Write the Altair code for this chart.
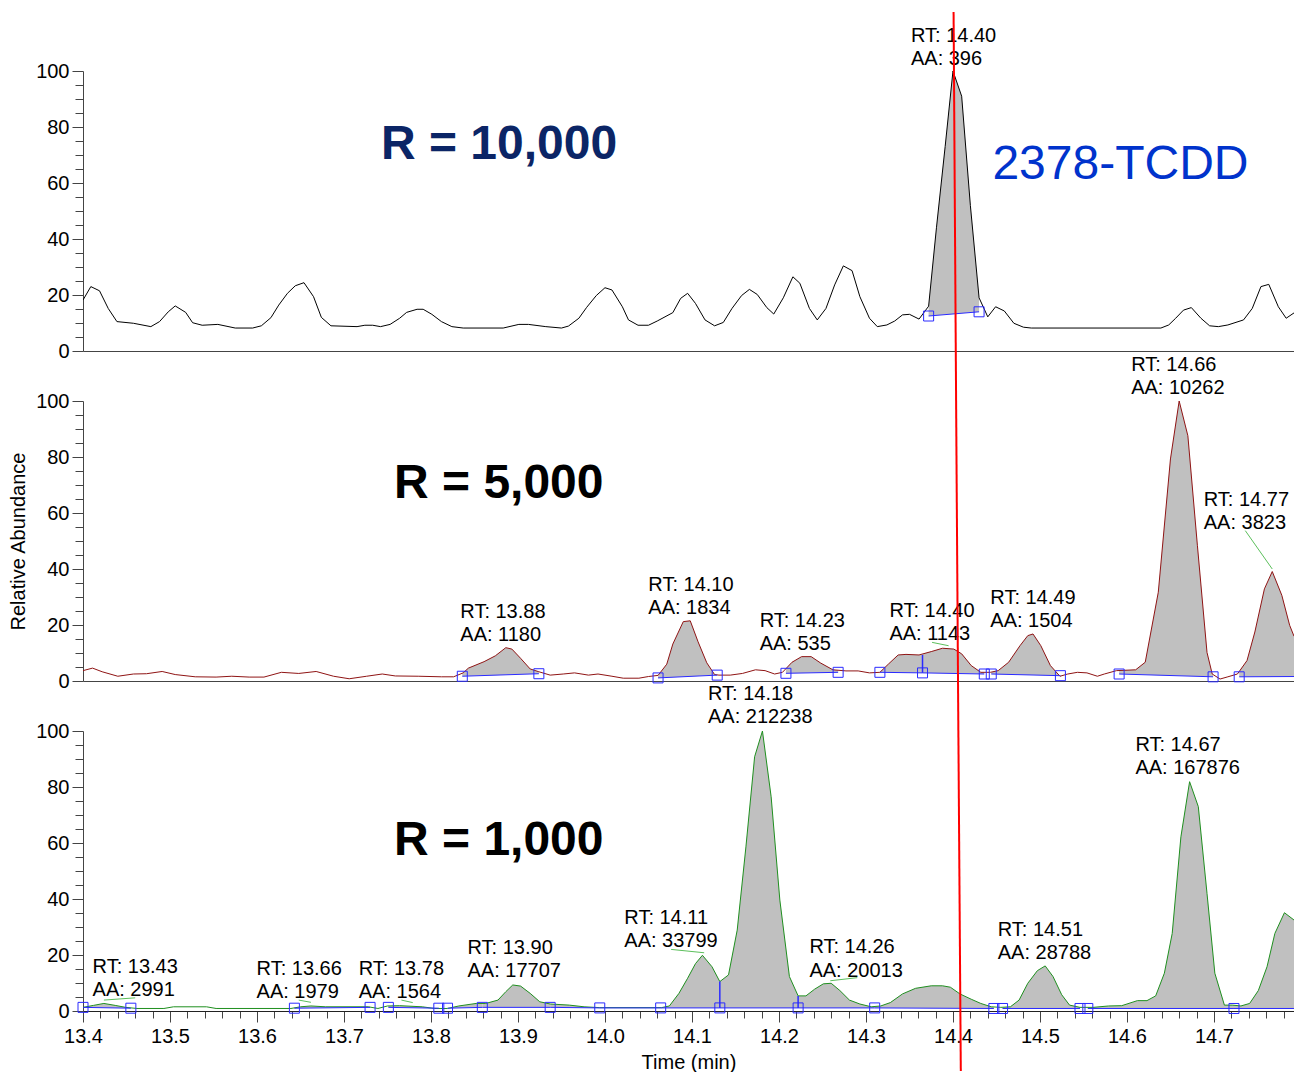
import altair as alt
import numpy as np
import pandas as pd

FONT = "Liberation Sans"
X_DOMAIN = [13.4, 14.792]
PANEL_W = 1211
PANEL_H = 280

# ---------------- R = 10,000 (black trace) ----------------
r10_t = [13.400, 13.409, 13.419, 13.429, 13.439, 13.458, 13.478, 13.488, 13.498, 13.506,
         13.518, 13.526, 13.537, 13.555, 13.575, 13.595, 13.605, 13.616, 13.625, 13.635,
         13.644, 13.654, 13.665, 13.674, 13.685, 13.715, 13.724, 13.733, 13.742, 13.753,
         13.764, 13.772, 13.784, 13.791, 13.801, 13.812, 13.824, 13.837, 13.883, 13.901,
         13.912, 13.932, 13.950, 13.958, 13.970, 13.979, 13.990, 14.000, 14.008, 14.020,
         14.027, 14.038, 14.050, 14.060, 14.078, 14.087, 14.095, 14.104, 14.115, 14.126,
         14.136, 14.146, 14.157, 14.166, 14.175, 14.186, 14.194, 14.205, 14.216, 14.224,
         14.235, 14.244, 14.254, 14.264, 14.274, 14.284, 14.293, 14.304, 14.313, 14.324,
         14.333, 14.342, 14.350, 14.361, 14.372, 14.381, 14.391, 14.400, 14.410, 14.420,
         14.430, 14.440, 14.449, 14.459, 14.470, 14.481, 14.490, 14.639, 14.648, 14.656,
         14.665, 14.674, 14.685, 14.695, 14.705, 14.716, 14.734, 14.744, 14.754, 14.763,
         14.774, 14.783, 14.792]
r10_v = [18.2, 23.0, 21.5, 15.2, 10.5, 9.9, 8.7, 10.5, 14.0, 16.1,
         13.8, 10.1, 9.2, 9.5, 8.2, 8.2, 9.0, 11.9, 16.4, 20.6,
         23.3, 24.4, 19.4, 12.0, 9.0, 8.7, 9.2, 9.2, 8.7, 9.5,
         11.7, 13.8, 14.9, 14.9, 13.1, 10.5, 8.7, 8.2, 8.2, 9.5,
         9.5, 8.7, 8.2, 8.9, 11.7, 15.6, 19.8, 22.6, 21.8, 15.8,
         11.1, 9.2, 9.2, 10.7, 13.7, 18.8, 20.6, 17.0, 11.1, 9.0,
         10.2, 15.2, 19.8, 22.0, 20.2, 15.5, 13.2, 19.0, 26.5, 24.2,
         15.2, 11.1, 15.2, 23.6, 30.4, 28.7, 19.4, 11.7, 8.7, 9.3,
         10.7, 12.9, 13.1, 11.4, 16.0, 44.0, 73.0, 100.0, 91.0, 52.0,
         19.0, 12.2, 15.8, 14.3, 9.9, 8.5, 8.2, 8.2, 9.3, 11.7,
         14.6, 15.5, 11.7, 9.0, 8.7, 9.3, 11.1, 15.2, 23.0, 23.8,
         15.8, 11.7, 13.6]
# integrated peaks: start time, start baseline, end time, end baseline
r10_peaks = [(14.372, 12.5, 14.430, 14.0)]
r10_drops = []
r10_leaders = []
r10_lab_txt = ["RT: 14.40\nAA: 396"]
r10_lab_t = [14.3517]
r10_lab_v = [110.4]

# ---------------- R = 5,000 (dark red trace) ----------------
r5_t = [13.400, 13.411, 13.422, 13.440, 13.458, 13.473, 13.491, 13.506, 13.529, 13.553,
        13.571, 13.591, 13.608, 13.628, 13.648, 13.668, 13.688, 13.706, 13.726, 13.744,
        13.759, 13.786, 13.812, 13.826, 13.837, 13.843, 13.861, 13.874, 13.886, 13.893,
        13.903, 13.914, 13.924, 13.937, 13.952, 13.965, 13.981, 13.992, 14.008, 14.021,
        14.039, 14.050, 14.061, 14.071, 14.078, 14.090, 14.098, 14.107, 14.117, 14.126,
        14.131, 14.144, 14.158, 14.173, 14.184, 14.195, 14.204, 14.215, 14.226, 14.237,
        14.248, 14.262, 14.277, 14.291, 14.304, 14.316, 14.326, 14.337, 14.346, 14.361,
        14.375, 14.388, 14.401, 14.410, 14.421, 14.432, 14.443, 14.452, 14.464, 14.477,
        14.486, 14.492, 14.501, 14.512, 14.523, 14.532, 14.543, 14.554, 14.566, 14.574,
        14.588, 14.610, 14.621, 14.636, 14.650, 14.660, 14.670, 14.681, 14.692, 14.698,
        14.707, 14.716, 14.727, 14.738, 14.747, 14.758, 14.767, 14.778, 14.787, 14.792]
r5_v = [3.7, 4.6, 3.3, 1.7, 2.5, 2.6, 3.4, 2.3, 1.5, 1.4,
        1.7, 1.4, 1.4, 3.1, 2.7, 3.4, 1.7, 0.8, 1.7, 2.5,
        1.8, 1.7, 1.5, 1.5, 2.9, 4.6, 6.9, 9.0, 11.9, 11.4,
        8.1, 4.3, 3.3, 2.1, 2.5, 2.9, 2.1, 2.5, 1.7, 1.0,
        1.0, 1.6, 2.0, 6.0, 13.2, 21.2, 21.5, 14.0, 6.5, 2.3,
        2.1, 2.1, 2.7, 4.0, 3.7, 2.5, 3.1, 6.7, 8.7, 8.7,
        6.4, 4.0, 3.6, 3.6, 2.9, 3.1, 6.1, 9.3, 9.5, 9.3,
        10.5, 11.7, 11.4, 9.7, 5.5, 3.1, 3.1, 3.7, 6.7, 12.6,
        16.2, 16.8, 12.6, 5.5, 1.7, 2.5, 3.1, 2.9, 1.7, 2.5,
        3.7, 4.0, 6.7, 31.7, 79.3, 100.0, 87.6, 48.3, 10.2, 2.5,
        0.7, 1.5, 2.5, 7.3, 17.5, 32.9, 39.1, 30.6, 19.9, 16.0]
r5_peaks = [(13.836, 1.7, 13.924, 2.6), (14.061, 1.1, 14.129, 2.1),
            (14.208, 2.75, 14.268, 3.1), (14.316, 3.1, 14.365, 2.9),
            (14.365, 2.9, 14.436, 2.5), (14.444, 2.5, 14.5235, 1.9),
            (14.591, 2.5, 14.699, 1.5), (14.729, 1.5, 14.792, 1.6)]
r5_drops = [(14.365, 2.9, 9.3)]
r5_leaders = [(14.376, 13.8, 14.395, 12.6), (14.736, 53.7, 14.767, 40.0)]
r5_lab_txt = ["RT: 13.88\nAA: 1180", "RT: 14.10\nAA: 1834", "RT: 14.23\nAA: 535",
              "RT: 14.40\nAA: 1143", "RT: 14.49\nAA: 1504", "RT: 14.66\nAA: 10262",
              "RT: 14.77\nAA: 3823"]
r5_lab_t = [13.8337, 14.0498, 14.1778, 14.3269, 14.4429, 14.6048, 14.6883]
r5_lab_v = [22.5, 32.3, 19.4, 22.8, 27.5, 110.8, 62.6]

# ---------------- R = 1,000 (green trace) ----------------
r1_t = [13.400, 13.412, 13.424, 13.437, 13.449, 13.462, 13.493, 13.504, 13.542, 13.553,
        13.639, 13.650, 13.662, 13.679, 13.728, 13.739, 13.750, 13.764, 13.790, 13.804,
        13.819, 13.832, 13.852, 13.863, 13.877, 13.886, 13.894, 13.903, 13.914, 13.925,
        13.937, 13.959, 13.976, 13.994, 14.065, 14.074, 14.085, 14.095, 14.104, 14.112,
        14.123, 14.132, 14.142, 14.152, 14.162, 14.172, 14.181, 14.191, 14.201, 14.212,
        14.222, 14.231, 14.241, 14.251, 14.260, 14.270, 14.281, 14.293, 14.306, 14.317,
        14.328, 14.342, 14.357, 14.375, 14.388, 14.397, 14.408, 14.421, 14.432, 14.444,
        14.455, 14.466, 14.476, 14.486, 14.497, 14.506, 14.515, 14.525, 14.534, 14.546,
        14.561, 14.579, 14.594, 14.612, 14.623, 14.633, 14.643, 14.652, 14.662, 14.672,
        14.682, 14.692, 14.701, 14.712, 14.721, 14.731, 14.741, 14.751, 14.761, 14.770,
        14.781, 14.792]
r1_v = [1.3, 2.0, 2.7, 2.0, 1.3, 0.9, 0.9, 1.5, 1.5, 0.9,
        0.9, 1.5, 1.8, 1.5, 1.5, 0.9, 1.8, 1.9, 1.5, 0.9,
        0.9, 1.8, 2.7, 2.7, 3.9, 6.9, 9.3, 8.9, 6.3, 3.3,
        2.5, 2.1, 1.5, 1.2, 1.2, 1.8, 6.3, 11.7, 16.9, 19.9,
        15.8, 10.5, 12.9, 28.9, 58.6, 90.8, 100.0, 76.5, 39.6, 12.3,
        5.4, 5.4, 7.8, 9.7, 9.9, 7.3, 3.9, 2.5, 1.5, 1.8,
        3.0, 6.1, 8.1, 9.0, 9.0, 8.5, 6.1, 4.2, 2.7, 1.5,
        1.3, 1.5, 3.9, 9.9, 14.4, 16.1, 12.3, 5.8, 2.1, 1.3,
        1.3, 1.8, 1.9, 3.7, 3.7, 5.4, 13.5, 27.7, 62.2, 81.9,
        73.0, 42.0, 13.5, 2.1, 2.1, 1.8, 2.7, 7.3, 15.8, 27.7,
        35.1, 32.5]
r1_peaks = [(13.400, 1.3, 13.455, 1.0), (13.643, 1.0, 13.730, 1.3),
            (13.751, 1.3, 13.809, 1.0), (13.819, 1.0, 13.859, 1.3),
            (13.859, 1.3, 13.937, 1.3), (13.937, 1.3, 13.994, 1.1),
            (13.994, 1.1, 14.064, 1.1), (14.064, 1.1, 14.132, 1.1),
            (14.132, 1.1, 14.222, 1.1), (14.222, 1.1, 14.310, 1.1),
            (14.310, 1.1, 14.447, 0.9), (14.457, 0.9, 14.546, 0.9),
            (14.555, 0.9, 14.723, 0.9), (14.723, 0.9, 14.792, 0.9)]
r1_drops = [(14.132, 1.1, 10.5), (14.222, 1.1, 5.4)]
r1_leaders = [(13.424, 3.9, 13.460, 4.7), (13.648, 3.9, 13.662, 3.1),
              (13.766, 3.9, 13.779, 3.0), (14.076, 22.0, 14.114, 20.8),
              (14.259, 10.8, 14.290, 11.9)]
r1_lab_txt = ["RT: 13.43\nAA: 2991", "RT: 13.66\nAA: 1979", "RT: 13.78\nAA: 1564",
              "RT: 13.90\nAA: 17707", "RT: 14.11\nAA: 33799", "RT: 14.18\nAA: 212238",
              "RT: 14.26\nAA: 20013", "RT: 14.51\nAA: 28788", "RT: 14.67\nAA: 167876"]
r1_lab_t = [13.4110, 13.5995, 13.7170, 13.8420, 14.0222, 14.1184, 14.2350, 14.4515, 14.6097]
r1_lab_v = [13.5, 12.9, 12.9, 20.4, 31.1, 111.1, 20.6, 26.8, 93.0]

# resolution captions: text, left time, baseline value
captions = [("R = 10,000", 13.7425, 68.5), ("R = 5,000", 13.7575, 65.3), ("R = 1,000", 13.7575, 55.6)]
compound = ("2378-TCDD", 14.4453, 61.4)

# red retention-time marker, drawn across each panel (time at top / bottom of segment)
marker_t = [14.4007, 14.4036, 14.4062, 14.4090]
marker_px = [(-59, 330), (0, 330), (0, 340)]

XSCALE = alt.Scale(domain=X_DOMAIN, nice=False, zero=False)
YSCALE = alt.Scale(domain=[0, 100], nice=False)

MAJOR_X = "abs(datum.value * 10 - round(datum.value * 10)) < 0.001"
x_ticks = [round(13.40 + 0.02 * i, 2) for i in range(70)]

axis_bottom = alt.Axis(
    values=x_ticks,
    labelExpr=f"{MAJOR_X} ? format(datum.value, '.1f') : ''",
    tickSize={"condition": {"test": MAJOR_X, "value": 11}, "value": 7},
    labelFlush=False, labelOverlap=False, grid=False,
    labelPadding=4, labelFontSize=20, labelFont=FONT, labelColor="black",
    domainColor="#222222", tickColor="#444444",
    title="Time (min)", titleFontSize=20, titleFont=FONT, titleFontWeight="normal",
    titleColor="black", titlePadding=6,
)
axis_plain = alt.Axis(labels=False, ticks=False, grid=False, title=None, domainColor="#444444")


def y_axis(title):
    return alt.Axis(
        values=list(range(0, 101, 5)),
        labelExpr="datum.value % 20 === 0 ? datum.label : ''",
        tickSize={"condition": {"test": "datum.value % 20 === 0", "value": 11}, "value": 8},
        labelOverlap=False, grid=False, labelPadding=3,
        labelFontSize=20, labelFont=FONT, labelColor="black",
        domainColor="#444444", tickColor="#444444",
        title=title, titleFontSize=20, titleFont=FONT, titleFontWeight="normal",
        titleColor="black", titlePadding=7,
    )


def panel(trace_t, trace_v, color, peaks, drops, leaders, lab_txt, lab_t, lab_v,
          caption, caption_color, marker_idx, x_axis, y_title, extra_text=None):
    ya = y_axis(y_title)

    def X(f):
        return alt.X(f"{f}:Q", scale=XSCALE, axis=x_axis)

    def Y(f):
        return alt.Y(f"{f}:Q", scale=YSCALE, axis=ya)

    trace = pd.DataFrame({"t": trace_t, "v": trace_v})

    # shaded region between the trace and each peak's baseline
    rows = []
    for i, (t0, b0, t1, b1) in enumerate(peaks):
        ts = np.array([t0] + [t for t in trace_t if t0 < t < t1] + [t1])
        vs = np.interp(ts, trace_t, trace_v)
        bs = b0 + (b1 - b0) * (ts - t0) / (t1 - t0)
        rows += [{"peak": i, "t": a, "v": b, "b": c} for a, b, c in zip(ts, vs, bs)]
    fill = pd.DataFrame(rows)

    base = pd.DataFrame(peaks, columns=["t0", "b0", "t1", "b1"])
    ends = sorted({(p[0], p[1]) for p in peaks} | {(p[2], p[3]) for p in peaks})
    ends = pd.DataFrame([e for e in ends if e[0] <= 14.78], columns=["t", "b"])

    layers = [
        alt.Chart(fill).mark_area(color="#c0c0c0", opacity=1, clip=True).encode(
            x=X("t"), y=Y("v"), y2="b:Q", detail="peak:N"),
        alt.Chart(trace).mark_line(color=color, strokeWidth=1, clip=True).encode(
            x=X("t"), y=Y("v")),
        alt.Chart(base).mark_rule(color="#2a2aff", strokeWidth=1, clip=True).encode(
            x=X("t0"), x2="t1:Q", y=Y("b0"), y2="b1:Q"),
    ]
    if drops:
        d = pd.DataFrame(drops, columns=["t", "b", "top"])
        layers.append(alt.Chart(d).mark_rule(color="#2a2aff", strokeWidth=1.5).encode(
            x=X("t"), y=Y("b"), y2="top:Q"))
    layers.append(alt.Chart(ends).mark_point(shape="square", filled=False, size=100,
                                              color="#2a2aff", strokeWidth=1, opacity=1).encode(
        x=X("t"), y=Y("b")))
    if leaders:
        ld = pd.DataFrame(leaders, columns=["t0", "v0", "t1", "v1"])
        layers.append(alt.Chart(ld).mark_rule(color="#5cbf5c", strokeWidth=1).encode(
            x=X("t0"), x2="t1:Q", y=Y("v0"), y2="v1:Q"))
    labs = pd.DataFrame({"t": lab_t, "v": lab_v, "txt": lab_txt})
    layers.append(alt.Chart(labs).mark_text(
        align="left", baseline="alphabetic", fontSize=20, font=FONT, color="black",
        lineBreak="\n", lineHeight=23.3).encode(x=X("t"), y=Y("v"), text="txt:N"))
    cap = pd.DataFrame([caption], columns=["txt", "t", "v"])
    layers.append(alt.Chart(cap).mark_text(
        align="left", baseline="alphabetic", fontSize=48, fontWeight="bold", font=FONT,
        color=caption_color).encode(x=X("t"), y=Y("v"), text="txt:N"))
    if extra_text is not None:
        ex = pd.DataFrame([extra_text], columns=["txt", "t", "v"])
        layers.append(alt.Chart(ex).mark_text(
            align="left", baseline="alphabetic", fontSize=48, font=FONT,
            color="#0033cc").encode(x=X("t"), y=Y("v"), text="txt:N"))
    mk = pd.DataFrame({"t0": [marker_t[marker_idx]], "t1": [marker_t[marker_idx + 1]]})
    py0, py1 = marker_px[marker_idx]
    layers.append(alt.Chart(mk).mark_rule(color="#ff0000", strokeWidth=2).encode(
        x=X("t0"), x2="t1:Q", y=alt.value(py0), y2=alt.value(py1)))

    return alt.layer(*layers).properties(width=PANEL_W, height=PANEL_H)


p10 = panel(r10_t, r10_v, "#000000", r10_peaks, r10_drops, r10_leaders,
            r10_lab_txt, r10_lab_t, r10_lab_v, captions[0], "#0b2566", 0,
            axis_plain, None, extra_text=compound)
p5 = panel(r5_t, r5_v, "#8f1414", r5_peaks, r5_drops, r5_leaders,
           r5_lab_txt, r5_lab_t, r5_lab_v, captions[1], "#000000", 1,
           axis_plain, "Relative Abundance")
p1 = panel(r1_t, r1_v, "#1f8f1f", r1_peaks, r1_drops, r1_leaders,
           r1_lab_txt, r1_lab_t, r1_lab_v, captions[2], "#000000", 2,
           axis_bottom, None)

chart = alt.vconcat(p10, p5, p1, spacing=50, bounds="flush").properties(
    padding={"left": 8, "top": 11, "right": 0, "bottom": 0},
    background="white",
).configure_view(stroke=None)

chart.save("out.html", embed_options={"renderer": "svg", "actions": False})
